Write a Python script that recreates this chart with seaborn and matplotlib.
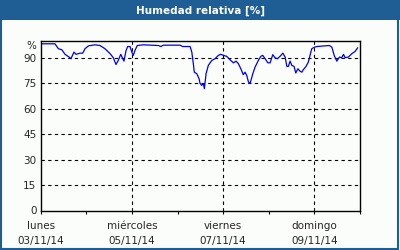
import matplotlib
matplotlib.use("Agg")
import matplotlib.pyplot as plt
import seaborn as sns
import pandas as pd
from matplotlib.patches import Rectangle

# Data: hours since 03/11/14 00:00, relative humidity (%)
hours = [0, 7.5, 9.3, 11.1, 12.8, 15.4, 15.9, 17.5, 18.6, 20.7, 22.1, 23.3, 25.1, 28.6,
         31.2, 33.8, 36.5, 38.2, 39.6, 40.8, 42.1, 43.2, 43.8, 44.9, 45.8, 47.0, 47.9,
         48.7, 49.6, 50.8, 54.0, 61.9, 63.2, 64.5, 73.3, 74.7, 78.6, 79.5, 80.3, 80.8,
         82.1, 83.3, 83.8, 84.7, 85.6, 86.1, 87.0, 88.2, 90.0, 91.7, 93.5, 94.7, 96.1,
         97.9, 99.6, 101.4, 102.8, 104.0, 105.3, 106.6, 107.5, 108.4, 109.3, 110.2,
         111.6, 112.8, 114.5, 115.8, 116.8, 118.1, 119.5, 120.7, 122.1, 123.3, 124.5,
         125.9, 127.4, 128.6, 129.5, 130.3, 131.2, 132.1, 133.3, 134.2, 135.3, 136.5,
         137.4, 138.2, 139.6, 140.8, 141.7, 142.6, 144.0, 145.3, 149.6, 151.9, 153.2,
         154.4, 155.8, 157.2, 158.4, 159.3, 160.2, 161.9, 163.7, 165.4, 166.8]
humidity = [98.2, 98.2, 95.3, 94.7, 92.0, 90.0, 89.4, 93.3, 92.0, 92.7, 92.7, 95.3, 97.0, 97.6,
            97.2, 95.3, 92.4, 90.0, 86.0, 88.4, 92.0, 89.4, 88.0, 94.3, 96.6, 96.6, 93.3,
            91.4, 94.3, 97.2, 97.6, 97.2, 96.6, 97.4, 97.4, 96.6, 96.6, 93.3, 86.5, 81.5,
            80.6, 77.7, 75.0, 73.7, 74.7, 71.8, 80.6, 85.5, 88.4, 89.4, 91.4, 92.0, 91.4,
            90.8, 88.8, 87.0, 88.0, 86.5, 83.5, 80.0, 81.5, 79.6, 75.7, 75.0,
            80.6, 84.5, 88.4, 90.8, 91.4, 89.4, 87.0, 87.0, 91.8, 90.0, 89.4,
            90.8, 92.7, 90.4, 84.9, 84.9, 88.0, 85.5, 84.9, 81.0, 83.5, 82.0,
            81.5, 83.0, 84.9, 87.4, 91.4, 95.3, 96.2, 96.6, 97.0, 97.2, 96.2,
            91.4, 88.0, 90.4, 90.0, 92.0, 90.0, 90.4, 92.4, 93.7, 95.9]

day_names = ["lunes", "miércoles", "viernes", "domingo"]
day_dates = ["03/11/14", "05/11/14", "07/11/14", "09/11/14"]
y_ticks = [0, 15, 30, 45, 60, 75, 90]
title = "Humedad relativa [%]"

sns.set_style("white")
plt.rcParams["font.family"] = ["DejaVu Sans"]

bg = "#fbfdfa"
frame = "#1f5e94"

fig = plt.figure(figsize=(4, 2.5), dpi=100, facecolor=bg)

# title bar and border
fig.patches.append(Rectangle((0, 0.92), 1, 0.08, transform=fig.transFigure,
                             facecolor=frame, edgecolor="none", zorder=0))
fig.patches.append(Rectangle((0.002, 0.004), 0.994, 0.994, transform=fig.transFigure,
                             facecolor="none", edgecolor=frame, linewidth=1.5, zorder=5))
fig.text(0.5, 0.958, title, color="white", fontsize=7.5, fontweight="bold",
         ha="center", va="center")

ax = fig.add_axes([0.1018, 0.158, 0.7982, 0.679])
ax.set_facecolor(bg)

df = pd.DataFrame({"h": hours, "rh": humidity})
sns.lineplot(data=df, x="h", y="rh", ax=ax, color="#0000f0", linewidth=0.9)

ax.set_xlim(0, 168)
ax.set_ylim(0, 100)
ax.set_xlabel("")
ax.set_ylabel("")

ax.set_yticks(y_ticks)
ax.set_yticklabels([str(v) for v in y_ticks], fontsize=7.5)
ax.text(-0.015, 100, "%", transform=ax.get_yaxis_transform(), ha="right", va="top",
        fontsize=7.5)

major = [0, 48, 96, 144]
minor = [24, 72, 120, 168]
ax.set_xticks(major)
ax.set_xticklabels([f"{n}\n{d}" for n, d in zip(day_names, day_dates)], fontsize=7.5,
                   linespacing=1.6)
ax.set_xticks(minor, minor=True)
ax.tick_params(axis="x", which="both", direction="out", length=2.5, width=0.8,
               color="black", bottom=True, pad=5)
ax.tick_params(axis="y", which="both", length=0, pad=3)

for v in y_ticks[1:]:
    ax.axhline(v, color="black", linestyle=(0, (3, 3)), linewidth=0.8, zorder=1)
for h in major[1:]:
    ax.axvline(h, color="black", linestyle=(0, (3, 3)), linewidth=0.8, zorder=1)

for s in ax.spines.values():
    s.set_visible(True)
    s.set_color("black")
    s.set_linewidth(1.0)

fig.savefig("out.png", dpi=100, facecolor=bg)
